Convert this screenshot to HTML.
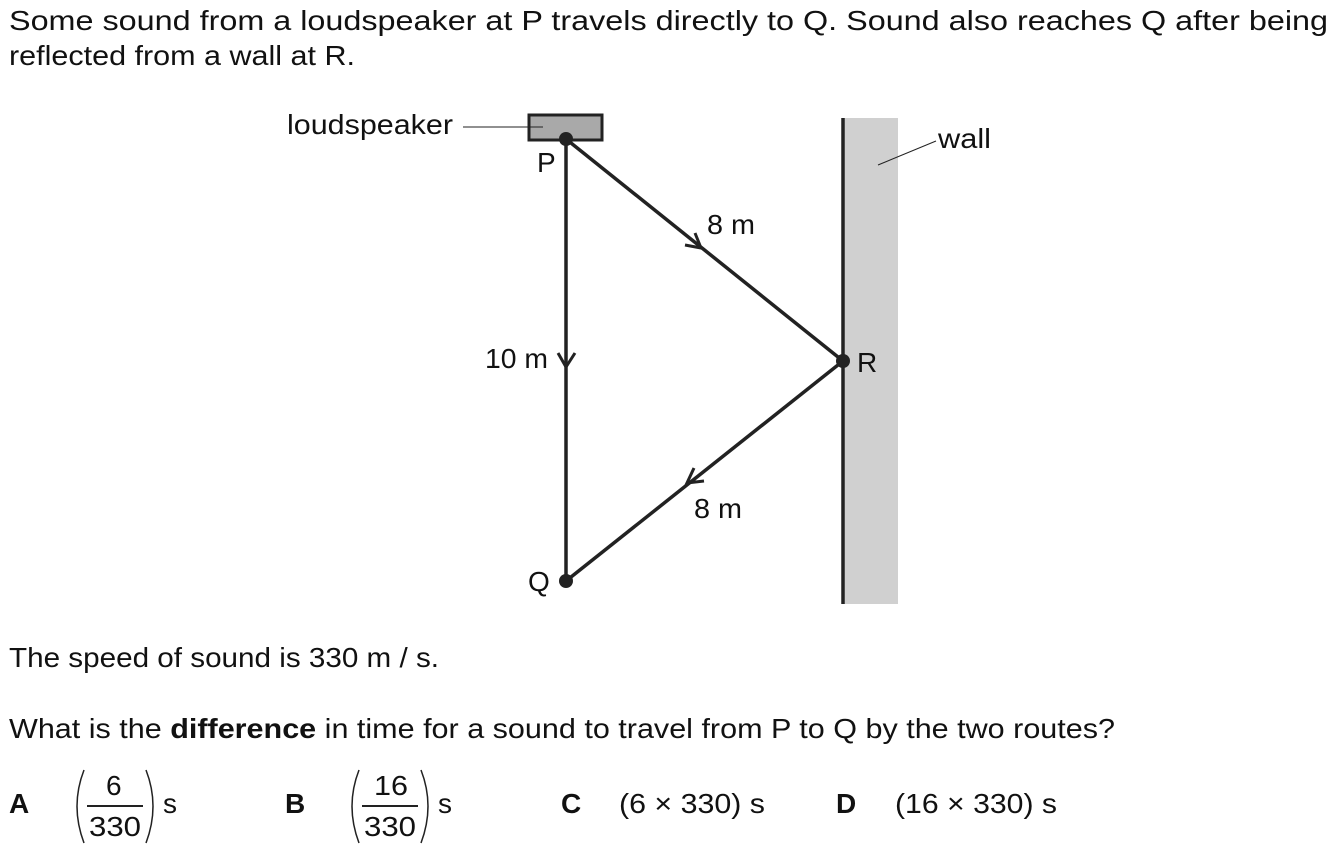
<!DOCTYPE html>
<html><head><meta charset="utf-8"><style>
html,body{margin:0;padding:0;background:#fff;}
svg{display:block;}
text{font-family:"Liberation Sans",Arial,sans-serif;font-size:28px;fill:#111;}
</style></head><body>
<svg width="1344" height="856" viewBox="0 0 1344 856">
<text x="9" y="30" textLength="1319" lengthAdjust="spacingAndGlyphs">Some sound from a loudspeaker at P travels directly to Q. Sound also reaches Q after being</text>
<text x="9" y="65" textLength="346" lengthAdjust="spacingAndGlyphs">reflected from a wall at R.</text>

<rect x="843" y="118" width="55" height="486" fill="#d0d0d0"/>
<line x1="843" y1="118" x2="843" y2="604" stroke="#222" stroke-width="3.5"/>
<line x1="878" y1="165" x2="936" y2="141" stroke="#222" stroke-width="1"/>
<text x="938" y="148" textLength="53" lengthAdjust="spacingAndGlyphs">wall</text>

<text x="287" y="134" textLength="166" lengthAdjust="spacingAndGlyphs">loudspeaker</text>
<rect x="529" y="115" width="73" height="25" fill="#a9a9a9" stroke="#222" stroke-width="3"/>
<line x1="463" y1="127" x2="543" y2="127" stroke="#222" stroke-width="1"/>

<g stroke="#222" stroke-width="3.5" fill="none">
<line x1="566" y1="139" x2="566" y2="581"/>
<line x1="566" y1="139" x2="843" y2="361"/>
<line x1="843" y1="361" x2="566" y2="581"/>
<polyline points="558,353 566,367 575,353" stroke-width="3"/>
<polyline points="695,233 701,248 685,245" stroke-width="3"/>
<polyline points="704,481 687,483 694,468" stroke-width="3"/>
</g>
<circle cx="566" cy="139" r="7" fill="#222"/>
<circle cx="843" cy="361" r="7" fill="#222"/>
<circle cx="566" cy="581" r="7" fill="#222"/>
<text x="537" y="172">P</text>
<text x="857" y="372">R</text>
<text x="528" y="591">Q</text>
<text x="707" y="234" textLength="48" lengthAdjust="spacingAndGlyphs">8 m</text>
<text x="694" y="518" textLength="48" lengthAdjust="spacingAndGlyphs">8 m</text>
<text x="485" y="368" textLength="63" lengthAdjust="spacingAndGlyphs">10 m</text>

<text x="9" y="667" textLength="430" lengthAdjust="spacingAndGlyphs">The speed of sound is 330 m / s.</text>
<text x="9" y="738" textLength="1106" lengthAdjust="spacingAndGlyphs">What is the <tspan font-weight="bold">difference</tspan> in time for a sound to travel from P to Q by the two routes?</text>

<text x="9" y="813" font-weight="bold">A</text>
<path d="M84,770 Q70,806 84,843" stroke="#222" stroke-width="1.5" fill="none"/>
<text x="106" y="795">6</text>
<line x1="87" y1="806" x2="143" y2="806" stroke="#222" stroke-width="2"/>
<text x="89" y="836" textLength="52" lengthAdjust="spacingAndGlyphs">330</text>
<path d="M146,770 Q160,806 146,843" stroke="#222" stroke-width="1.5" fill="none"/>
<text x="163" y="813">s</text>

<text x="285" y="813" font-weight="bold">B</text>
<path d="M359,770 Q345,806 359,843" stroke="#222" stroke-width="1.5" fill="none"/>
<text x="374" y="795" textLength="34" lengthAdjust="spacingAndGlyphs">16</text>
<line x1="362" y1="806" x2="418" y2="806" stroke="#222" stroke-width="2"/>
<text x="364" y="836" textLength="52" lengthAdjust="spacingAndGlyphs">330</text>
<path d="M421,770 Q435,806 421,843" stroke="#222" stroke-width="1.5" fill="none"/>
<text x="438" y="813">s</text>

<text x="561" y="813" font-weight="bold">C</text>
<text x="619" y="813" textLength="146" lengthAdjust="spacingAndGlyphs">(6 × 330) s</text>
<text x="836" y="813" font-weight="bold">D</text>
<text x="895" y="813" textLength="162" lengthAdjust="spacingAndGlyphs">(16 × 330) s</text>
</svg>
</body></html>
